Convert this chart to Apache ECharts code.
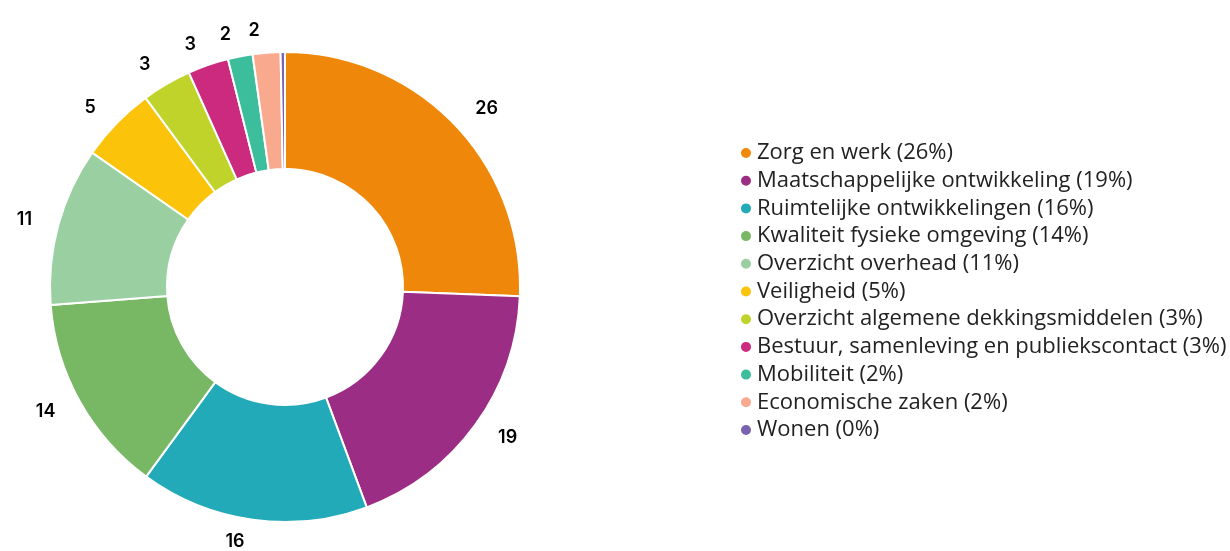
<!DOCTYPE html>
<html>
<head>
<meta charset="utf-8">
<script src="https://cdn.jsdelivr.net/npm/echarts@6/dist/echarts.min.js"></script>
<style>
  html, body { margin: 0; padding: 0; background: #fff; }
  #chart { width: 1230px; height: 551px; }
</style>
</head>
<body>
<div id="chart"></div>
<script>
const categories = [
  'Zorg en werk',
  'Maatschappelijke ontwikkeling',
  'Ruimtelijke ontwikkelingen',
  'Kwaliteit fysieke omgeving',
  'Overzicht overhead',
  'Veiligheid',
  'Overzicht algemene dekkingsmiddelen',
  'Bestuur, samenleving en publiekscontact',
  'Mobiliteit',
  'Economische zaken',
  'Wonen'
]
const values = [25.6, 18.7, 15.7, 13.7, 10.9, 5.2, 3.4, 2.8, 1.7, 1.9, 0.3]
const colors = [
  '#ef880a', '#9b2d84', '#23aab8', '#78b865', '#9acfa1', '#fbc30a',
  '#c0d32a', '#cb2a7f', '#3cbe9c', '#f9a98e', '#7b62ae'
]

const total = values.reduce((a, b) => a + b, 0)
const pct = {}
categories.forEach((name, i) => {
  pct[name] = Math.round((values[i] / total) * 100)
})

const chart = echarts.init(document.getElementById('chart'))
chart.setOption({
  color: colors,
  textStyle: { fontFamily: '"Open Sans", sans-serif' },
  legend: {
    orient: 'vertical',
    left: 734,
    top: 137,
    icon: 'circle',
    itemWidth: 12,
    itemHeight: 12,
    itemGap: 5.7,
    selectedMode: false,
    textStyle: { fontSize: 22, lineHeight: 22, color: '#222' },
    formatter: (name) => name + ' (' + pct[name] + '%)'
  },
  series: [
    {
      type: 'pie',
      center: [285, 287],
      radius: [118, 235],
      startAngle: 90,
      clockwise: true,
      avoidLabelOverlap: false,
      itemStyle: { borderColor: '#fff', borderWidth: 2 },
      label: {
        show: true,
        position: 'outside',
        color: '#000',
        fontFamily: 'Inter, sans-serif',
        fontSize: 18,
        fontWeight: 600,
        formatter: (p) => {
          const v = Math.round(p.value)
          return v > 0 ? String(v) : ''
        }
      },
      labelLine: { show: false, length: 22, length2: 0 },
      emphasis: { disabled: true },
      data: categories.map((name, i) => ({ name, value: values[i] }))
    }
  ]
})
</script>
</body>
</html>
